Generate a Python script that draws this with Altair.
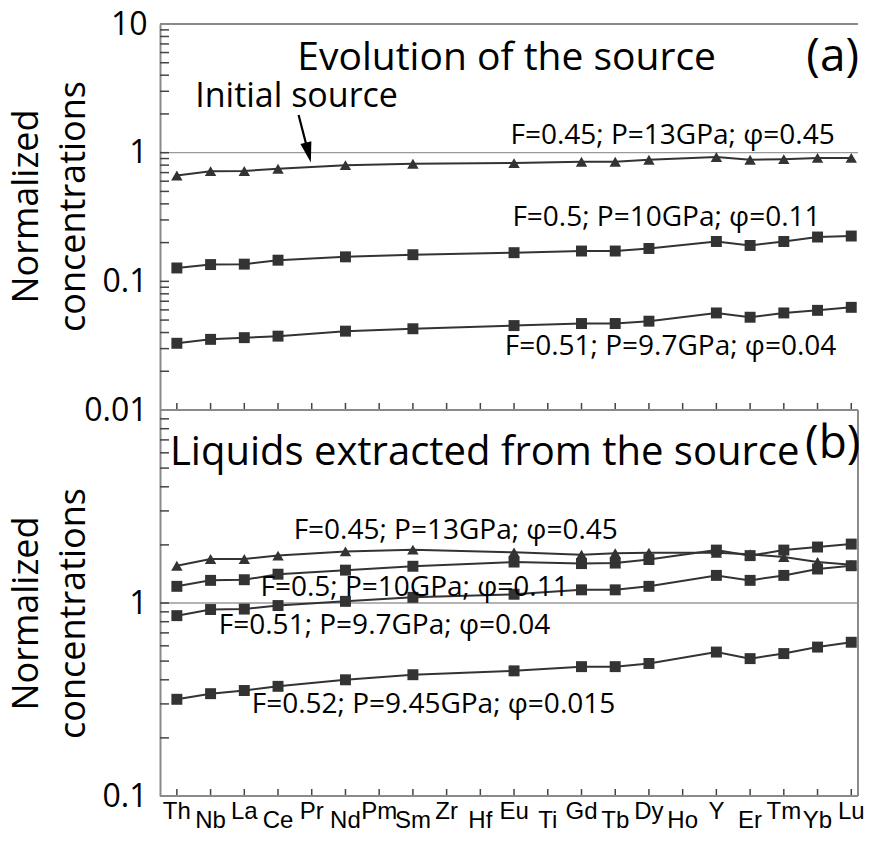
import altair as alt
import pandas as pd

# ---------------- data ----------------
elements = ["Th", "Nb", "La", "Ce", "Pr", "Nd", "Pm", "Sm", "Zr", "Hf", "Eu",
            "Ti", "Gd", "Tb", "Dy", "Ho", "Y", "Er", "Tm", "Yb", "Lu"]
plotted = ["Th", "Nb", "La", "Ce", "Nd", "Sm", "Eu", "Gd", "Tb", "Dy",
           "Y", "Er", "Tm", "Yb", "Lu"]

series_a = ["F=0.45; P=13GPa; φ=0.45", "F=0.5; P=10GPa; φ=0.11",
            "F=0.51; P=9.7GPa; φ=0.04"]
a_f045 = [0.665, 0.718, 0.72, 0.75, 0.80, 0.82, 0.83, 0.85, 0.85, 0.88,
          0.925, 0.88, 0.89, 0.91, 0.91]
a_f050 = [0.127, 0.135, 0.136, 0.146, 0.155, 0.161, 0.167, 0.172, 0.172,
          0.18, 0.204, 0.19, 0.204, 0.221, 0.225]
a_f051 = [0.033, 0.0354, 0.0365, 0.0375, 0.041, 0.0428, 0.0453, 0.047,
          0.047, 0.049, 0.0568, 0.0526, 0.0568, 0.0595, 0.0628]

series_b = ["F=0.45; P=13GPa; φ=0.45", "F=0.5; P=10GPa; φ=0.11",
            "F=0.51; P=9.7GPa; φ=0.04", "F=0.52; P=9.45GPa; φ=0.015"]
b_f045 = [1.56, 1.69, 1.69, 1.76, 1.85, 1.89, 1.83, 1.78, 1.81, 1.82,
          1.82, 1.79, 1.73, 1.63, 1.58]
b_f050 = [1.22, 1.31, 1.32, 1.41, 1.48, 1.55, 1.63, 1.60, 1.61, 1.68,
          1.88, 1.76, 1.88, 1.95, 2.02]
b_f051 = [0.86, 0.925, 0.93, 0.97, 1.02, 1.07, 1.11, 1.17, 1.17, 1.22,
          1.39, 1.31, 1.39, 1.50, 1.56]
b_f052 = [0.317, 0.339, 0.352, 0.37, 0.40, 0.425, 0.445, 0.468, 0.468,
          0.486, 0.557, 0.515, 0.547, 0.591, 0.626]

ticks_a = [0.01, 0.1, 1, 10]
ticks_b = [0.1, 1]
minor_mult = [1, 2, 3, 4, 5, 6, 7, 8, 9]

# ---------------- layout / style ----------------
W = 698
HA = 386
HB = 386
XDOM = [-0.5, 20.2]
INK = "#333333"
FRAME = "#8a8a8a"
TXT = "Open Sans"
XFONT = "Liberation Sans Narrow, Liberation Sans, Arial"


def long_df(names, value_lists):
    rows = []
    for name, vals in zip(names, value_lists):
        for el, v in zip(plotted, vals):
            rows.append({"series": name, "el": el,
                         "idx": elements.index(el), "v": v})
    return pd.DataFrame(rows)


def make_panel(names, value_lists, tri_series, ydom, yvals, decades, H,
               texts, title_y, arrow=None, xlabels=False, top_line=False,
               right_line=False):
    xs = alt.Scale(domain=XDOM, nice=False, zero=False)
    ys = alt.Scale(type="log", domain=ydom, nice=False)
    X = alt.X("idx:Q", scale=xs, axis=None)
    yaxis = alt.Axis(values=yvals, format="~g", labelFont=TXT,
                     labelFontSize=32, labelColor="black", ticks=False,
                     tickSize=0, labelPadding=13, domainColor=FRAME,
                     domainWidth=2, grid=False,
                     title=["Normalized", "concentrations"],
                     titleFont=TXT, titleFontSize=36,
                     titleFontWeight="normal", titleColor="black",
                     titleLineHeight=47, titleX=-123, titleY=title_y,
                     titleAngle=270, titleAlign="center",
                     titleBaseline="alphabetic")
    Y = alt.Y("v:Q", scale=ys, axis=yaxis)

    df = long_df(names, value_lists)
    one = pd.DataFrame({"d": [0]})

    layers = []
    # gridline at 1
    layers.append(alt.Chart(pd.DataFrame({"v": [1]})).mark_rule(
        color="#9a9a9a", strokeWidth=1.3).encode(y=Y))
    # y ticks (inward)
    minor = [d * m for d in decades for m in minor_mult]
    minor = [m for m in minor if ydom[0] <= m <= ydom[1]]
    layers.append(alt.Chart(pd.DataFrame({"v": minor})).mark_rule(
        color="#444444", strokeWidth=1.5).encode(
        y=Y, x=alt.value(0), x2=alt.value(9)))
    # x ticks (inward)
    layers.append(alt.Chart(pd.DataFrame({"idx": list(range(len(elements)))})
                            ).mark_rule(color="#444444", strokeWidth=1.5).encode(
        x=X, y=alt.value(H), y2=alt.value(H - 7)))
    # frame lines
    layers.append(alt.Chart(one).mark_rule(color=FRAME, strokeWidth=2).encode(
        x=alt.value(0), x2=alt.value(W), y=alt.value(H)))
    if top_line:
        layers.append(alt.Chart(one).mark_rule(color=FRAME, strokeWidth=2).encode(
            x=alt.value(0), x2=alt.value(W), y=alt.value(0)))
    if right_line:
        layers.append(alt.Chart(one).mark_rule(color=FRAME, strokeWidth=2).encode(
            x=alt.value(W), y=alt.value(0), y2=alt.value(H)))
    # series lines and markers
    layers.append(alt.Chart(df).mark_line(color=INK, strokeWidth=2).encode(
        x=X, y=Y, detail="series:N"))
    layers.append(alt.Chart(df).transform_filter(
        alt.datum.series == tri_series).mark_point(
        shape="triangle-up", filled=True, opacity=1, color=INK,
        size=130).encode(x=X, y=Y))
    layers.append(alt.Chart(df).transform_filter(
        alt.datum.series != tri_series).mark_point(
        shape="square", filled=True, opacity=1, color=INK,
        size=120).encode(x=X, y=Y))
    # annotations
    tdf = pd.DataFrame(texts, columns=["text", "idx", "v", "fs"])
    layers.append(alt.Chart(tdf).mark_text(
        font=TXT, color="black", align="center", baseline="middle").encode(
        x=X, y=Y, text="text:N", size=alt.Size("fs:Q", scale=None)))
    if arrow is not None:
        adf = pd.DataFrame([arrow], columns=["idx", "v", "idx2", "v2"])
        layers.append(alt.Chart(adf).mark_rule(color="black", strokeWidth=2.2
                                               ).encode(
            x=X, y=Y, x2="idx2:Q", y2="v2:Q"))
        layers.append(alt.Chart(adf).mark_point(
            shape="M-0.55,-1L0.55,-1L0,1Z", filled=True, opacity=1,
            color="black", size=420, angle=346).encode(
            x=alt.X("idx2:Q", scale=xs, axis=None),
            y=alt.Y("v2:Q", scale=ys, axis=yaxis)))
    if xlabels:
        even = pd.DataFrame({"idx": list(range(0, len(elements), 2)),
                             "el": elements[0::2]})
        odd = pd.DataFrame({"idx": list(range(1, len(elements), 2)),
                            "el": elements[1::2]})
        layers.append(alt.Chart(even).mark_text(
            font=XFONT, fontSize=24, color="black",
            baseline="alphabetic").encode(
            x=X, y=alt.value(H + 23), text="el:N"))
        layers.append(alt.Chart(odd).mark_text(
            font=XFONT, fontSize=24, color="black",
            baseline="alphabetic").encode(
            x=X, y=alt.value(H + 32), text="el:N"))
    return alt.layer(*layers).properties(width=W, height=H)


texts_a = [
    ["Evolution of the source", 9.78, 5.47, 39],
    ["(a)", 19.45, 5.5, 46],
    ["Initial source", 3.55, 2.7, 34],
    ["F=0.45; P=13GPa; φ=0.45", 14.7, 1.35, 28],
    ["F=0.5; P=10GPa; φ=0.11", 14.52, 0.31, 28],
    ["F=0.51; P=9.7GPa; φ=0.04", 14.64, 0.031, 28],
]
texts_b = [
    ["Liquids extracted from the source", 9.13, 5.98, 40],
    ["(b)", 19.45, 6.7, 46],
    ["F=0.45; P=13GPa; φ=0.45", 8.27, 2.35, 28],
    ["F=0.5; P=10GPa; φ=0.11", 7.05, 1.19, 28],
    ["F=0.51; P=9.7GPa; φ=0.04", 6.16, 0.756, 28],
    ["F=0.52; P=9.45GPa; φ=0.015", 7.61, 0.297, 28],
]

panel_a = make_panel(series_a, [a_f045, a_f050, a_f051], series_a[0],
                     [0.01, 10], ticks_a, [0.01, 0.1, 1], HA, texts_a,
                     title_y=182, arrow=[3.61, 1.96, 3.90, 1.0],
                     top_line=True)
panel_b = make_panel(series_b, [b_f045, b_f050, b_f051, b_f052], series_b[0],
                     [0.1, 10], ticks_b, [0.1, 1], HB, texts_b,
                     title_y=203, xlabels=True, right_line=True)

chart = alt.vconcat(panel_a, panel_b, spacing=0, bounds="flush",
                    padding=0).configure_view(stroke=None)

chart.save("out.html", embed_options={"renderer": "svg", "actions": False})
